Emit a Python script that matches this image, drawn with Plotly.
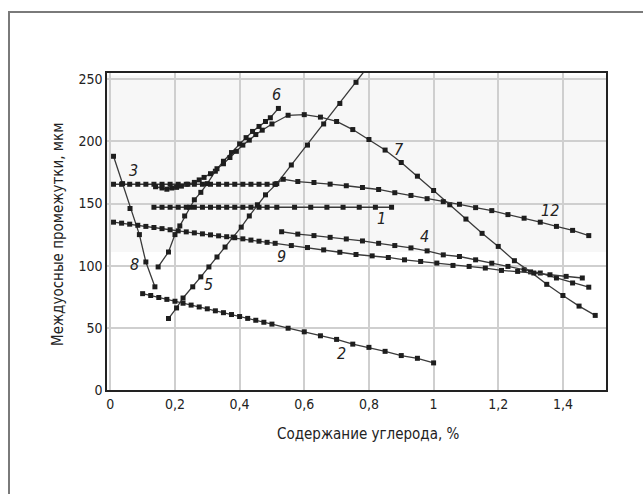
import plotly.graph_objects as go

# ---- data ----
s1_x = [0.135, 0.16, 0.185, 0.21, 0.235, 0.26, 0.285, 0.31, 0.335, 0.36, 0.385, 0.41, 0.435, 0.46, 0.485,
        0.515, 0.57, 0.62, 0.67, 0.72, 0.77, 0.82, 0.87]
s1_y = [147] * 23

s2_x = [0.1, 0.125, 0.15, 0.175, 0.2, 0.225, 0.25, 0.275, 0.3, 0.325, 0.35, 0.375, 0.4, 0.425, 0.45, 0.475, 0.5,
        0.55, 0.6, 0.65, 0.7, 0.75, 0.8, 0.85, 0.9, 0.95, 1.0]
s2_y = [77.5, 76.0, 74.4, 72.9, 71.4, 69.8, 68.3, 66.8, 65.3, 63.7, 62.2, 60.7, 59.1, 57.6, 56.1, 54.5, 53.0,
        49.7, 46.8, 43.6, 40.7, 36.9, 34.3, 31.1, 27.7, 25.5, 21.8]

s3_x = [0.01, 0.035, 0.06, 0.085, 0.11, 0.135, 0.16, 0.185, 0.21, 0.235, 0.26, 0.285, 0.31, 0.335, 0.36,
        0.385, 0.41, 0.435, 0.46, 0.485, 0.51]
s3_y = [165.5] * 21

s4_x = [0.53, 0.58, 0.63, 0.68, 0.73, 0.78, 0.83, 0.88, 0.93, 0.98, 1.03, 1.08, 1.13, 1.18, 1.23, 1.28, 1.33,
        1.38, 1.43, 1.48]
s4_y = [127.3, 125.4, 124.2, 122.8, 121.5, 119.9, 118.0, 116.2, 114.3, 111.9, 108.7, 107.4, 104.7, 102.0, 99.4,
        96.7, 94.1, 90.1, 86.1, 82.7]

s5_x = [0.18, 0.205, 0.225, 0.255, 0.28, 0.305, 0.33, 0.355, 0.38, 0.405, 0.43, 0.455, 0.48, 0.515, 0.56, 0.61,
        0.66, 0.71, 0.76, 0.81]
s5_y = [57.5, 66, 74, 83, 91, 99, 107, 115, 123, 131, 140, 149, 157, 166, 181, 197, 214, 230.5, 247.5, 264.5]

s6_x = [0.148, 0.18, 0.2, 0.215, 0.23, 0.245, 0.26, 0.28, 0.3, 0.325, 0.35, 0.375, 0.4, 0.42, 0.44, 0.46, 0.48,
        0.495, 0.52]
s6_y = [99, 111, 125, 132, 140, 147, 153, 159, 166, 176, 184, 191, 198, 203, 208, 212, 216, 219, 226.5]

s7_x = [0.14, 0.16, 0.175, 0.19, 0.205, 0.22, 0.24, 0.26, 0.275, 0.29, 0.31, 0.33, 0.35, 0.37, 0.39, 0.41, 0.43,
        0.45, 0.47, 0.5, 0.55, 0.6, 0.65, 0.7, 0.75, 0.8, 0.85, 0.9, 0.95, 1.0, 1.05, 1.1, 1.15, 1.2, 1.25, 1.3,
        1.35, 1.4, 1.45, 1.5]
s7_y = [163.5, 162.5, 161.5, 162.5, 163, 164, 165.5, 167, 169, 171, 174, 178, 182, 187, 192, 197, 201, 205.5,
        209, 214, 221, 221.5, 219.5, 216, 209.5, 201.5, 193, 183, 172, 160.5, 149, 137.5, 126, 115.5, 104, 95,
        85, 76, 67.5, 60]

s8_x = [0.01, 0.038, 0.061, 0.09, 0.11, 0.138]
s8_y = [188, 166, 146, 125, 103, 83]

s9_x = [0.01, 0.035, 0.06, 0.085, 0.11, 0.135, 0.16, 0.185, 0.21, 0.235, 0.26, 0.285, 0.31, 0.335, 0.36, 0.385,
        0.41, 0.435, 0.46, 0.485, 0.51, 0.56, 0.61, 0.66, 0.71, 0.76, 0.81, 0.86, 0.91, 0.96, 1.01, 1.06, 1.11,
        1.16, 1.21, 1.26, 1.31, 1.36, 1.41, 1.46]
s9_y = [135, 134.2, 133.4, 132.5, 131.6, 130.7, 129.8, 128.9, 128.0, 127.2, 126.4, 125.6, 124.8, 124.0, 123.3,
        122.5, 121.6, 120.6, 119.7, 118.8, 118.0, 116.2, 114.6, 112.7, 110.8, 109.0, 107.9, 106.6, 104.7, 103.4,
        102.1, 100.2, 99.4, 98.1, 96.2, 95.4, 94.1, 92.7, 91.4, 90.1]

s12_x = [0.51, 0.535, 0.58, 0.63, 0.68, 0.73, 0.78, 0.83, 0.88, 0.93, 0.98, 1.03, 1.08, 1.13, 1.18, 1.23, 1.28,
         1.33, 1.38, 1.43, 1.48]
s12_y = [165.5, 169.5, 167.7, 166.9, 165.6, 164.3, 162.9, 161.3, 158.7, 156.5, 153.9, 151.5, 149.4, 146.7, 144.3,
         141.1, 138.2, 135.0, 131.6, 128.4, 124.2]

series = [("1", s1_x, s1_y), ("2", s2_x, s2_y), ("3", s3_x, s3_y), ("4", s4_x, s4_y), ("5", s5_x, s5_y),
          ("6", s6_x, s6_y), ("7", s7_x, s7_y), ("8", s8_x, s8_y), ("9", s9_x, s9_y), ("12", s12_x, s12_y)]

label_text = ["3", "6", "7", "1", "12", "4", "9", "8", "5", "2"]
label_x = [0.071, 0.515, 0.893, 0.839, 1.36, 0.971, 0.53, 0.074, 0.303, 0.714]
label_y = [176.5, 237.6, 193.8, 138, 144.6, 123.4, 107.4, 100.7, 84.8, 29]

x_ticks = [0, 0.2, 0.4, 0.6, 0.8, 1.0, 1.2, 1.4]
x_ticktext = ["0", "0,2", "0,4", "0,6", "0,8", "1", "1,2", "1,4"]
y_ticks = [0, 50, 100, 150, 200, 250]

x_title = "Содержание углерода, %"
y_title = "Междуосные промежутки, мкм"

FONT = "DejaVu Sans Condensed, Liberation Sans Narrow, Roboto, sans-serif"

fig = go.Figure()

for name, xs, ys in series:
    fig.add_trace(go.Scatter(
        x=xs, y=ys, mode="lines+markers", name=name,
        line=dict(color="#3a3a3a", width=1.3),
        marker=dict(symbol="square", size=5, color="#1e1e1e"),
        showlegend=False,
    ))

# light band behind upper part of plot
fig.add_shape(type="rect", xref="x", yref="y", x0=-0.0102, x1=1.5333, y0=111, y1=253,
              fillcolor="#f7f7f7", line=dict(width=0), layer="below")

# outer frame (left/top edges visible)
L, R, T, B = 107, 37, 73, 104
W, H = 643, 494
pw, ph = W - L - R, H - T - B
def px2paper_x(px):
    return (px - L) / pw
def px2paper_y(py):
    return (H - B - py) / ph

fig.add_shape(type="rect", xref="paper", yref="paper",
              x0=px2paper_x(9), x1=px2paper_x(700), y0=px2paper_y(560), y1=px2paper_y(12),
              line=dict(color="#7a7a7a", width=2), fillcolor="rgba(0,0,0,0)", layer="below")

for t, x, y in zip(label_text, label_x, label_y):
    fig.add_annotation(x=x, y=y, xref="x", yref="y", text="<i>" + t + "</i>", showarrow=False,
                       xanchor="center", yanchor="middle",
                       font=dict(family=FONT, size=16, color="#222"))

fig.add_annotation(x=px2paper_x(368), y=px2paper_y(434), xref="paper", yref="paper", text=x_title,
                   showarrow=False, xanchor="center", yanchor="middle",
                   font=dict(family=FONT, size=15, color="#222"))
fig.add_annotation(x=px2paper_x(58), y=px2paper_y(235), xref="paper", yref="paper", text=y_title,
                   textangle=-90, showarrow=False, xanchor="center", yanchor="middle",
                   font=dict(family=FONT, size=15, color="#222"))

fig.update_xaxes(range=[-0.0102, 1.5333], tickvals=x_ticks, ticktext=x_ticktext,
                 showgrid=True, gridcolor="#cfcfcf", gridwidth=1.5, zeroline=False,
                 showline=True, linecolor="#222", linewidth=1.5, mirror=True, ticks="",
                 tickfont=dict(family=FONT, size=14, color="#222"))
fig.update_yaxes(range=[0, 255], tickvals=y_ticks,
                 showgrid=True, gridcolor="#cfcfcf", gridwidth=1.5, zeroline=False,
                 showline=True, linecolor="#222", linewidth=1.5, mirror=True, ticks="",
                 tickfont=dict(family=FONT, size=14, color="#222"))

fig.update_layout(width=W, height=H, margin=dict(l=L, r=R, t=T, b=B),
                  paper_bgcolor="white", plot_bgcolor="white")

fig.write_html("out.html")
